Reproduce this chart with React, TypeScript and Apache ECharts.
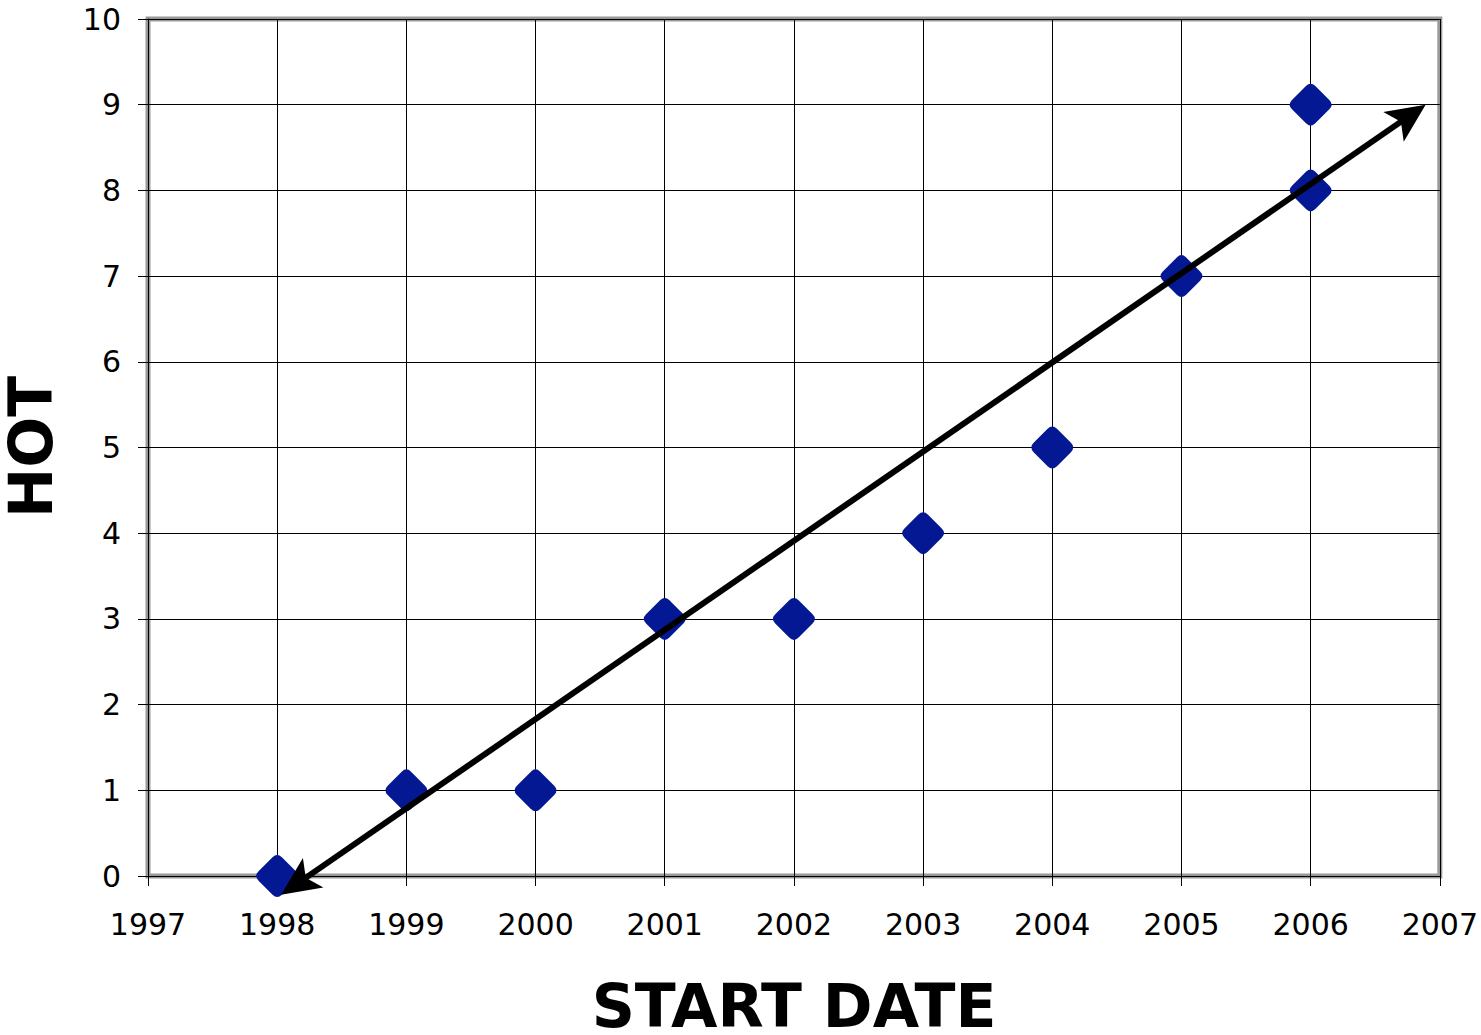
import React, { useEffect, useRef } from "react";
import * as echarts from "echarts";

const years = [1998, 1999, 2000, 2001, 2002, 2003, 2004, 2005, 2006, 2006];
const hotValues = [0, 1, 1, 3, 3, 4, 5, 7, 8, 9];
// trend arrow endpoints [x1, y1, x2, y2] in data units
const trendLine = [1998.03, -0.22, 2006.89, 9.0];
const xTitle = "START DATE";
const yTitle = "HOT";

const roundedDiamond =
  "path://M-0.8,-0.2 L-0.2,-0.8 Q0,-1 0.2,-0.8 L0.8,-0.2 Q1,0 0.8,0.2 L0.2,0.8 Q0,1 -0.2,0.8 L-0.8,0.2 Q-1,0 -0.8,-0.2 Z";

export default function App() {
  const ref = useRef<HTMLDivElement>(null);
  useEffect(() => {
    if (!ref.current) return;
    const chart = echarts.init(ref.current, undefined, { renderer: "svg", width: 1481, height: 1035 });
    const font = "'DejaVu Sans', Verdana, sans-serif";

    const arrowHead = (tip: number[], from: number[], len: number, half: number, notch: number) => {
      const dx = tip[0] - from[0];
      const dy = tip[1] - from[1];
      const d = Math.sqrt(dx * dx + dy * dy);
      const ux = dx / d;
      const uy = dy / d;
      const px = -uy;
      const py = ux;
      const bx = tip[0] - ux * len;
      const by = tip[1] - uy * len;
      const nx = tip[0] - ux * (len - notch);
      const ny = tip[1] - uy * (len - notch);
      return [
        [tip[0], tip[1]],
        [bx + px * half, by + py * half],
        [nx, ny],
        [bx - px * half, by - py * half],
      ];
    };

    chart.setOption({
      animation: false,
      backgroundColor: "#ffffff",
      grid: {
        left: 148,
        right: 40,
        top: 19,
        bottom: 159,
        show: true,
        borderColor: "#999999",
        borderWidth: 5,
        backgroundColor: "transparent",
      },
      xAxis: {
        type: "value",
        min: 1997,
        max: 2007,
        interval: 1,
        axisLine: { show: true, onZero: false, lineStyle: { color: "#000", width: 1 } },
        axisTick: { show: true, length: 10, lineStyle: { color: "#000" } },
        axisLabel: { color: "#000", fontSize: 30, fontFamily: font, margin: 33, formatter: (v: number) => String(v) },
        splitLine: { show: true, lineStyle: { color: "#000", width: 1 } },
      },
      yAxis: {
        type: "value",
        min: 0,
        max: 10,
        interval: 1,
        axisLine: { show: true, onZero: false, lineStyle: { color: "#000", width: 1 } },
        axisTick: { show: true, length: 10, lineStyle: { color: "#000" } },
        axisLabel: { color: "#000", fontSize: 30, fontFamily: font, margin: 27, formatter: (v: number) => String(v) },
        splitLine: { show: true, lineStyle: { color: "#000", width: 1 } },
      },
      graphic: [
        {
          type: "text",
          x: 794,
          y: 1006,
          style: {
            text: xTitle,
            fill: "#000",
            font: `bold 60px ${font}`,
            textAlign: "center",
            textVerticalAlign: "middle",
          },
        },
        {
          type: "text",
          x: 31,
          y: 447,
          rotation: Math.PI / 2,
          style: {
            text: yTitle,
            fill: "#000",
            font: `bold 60px ${font}`,
            textAlign: "center",
            textVerticalAlign: "middle",
          },
        },
      ],
      series: [
        {
          type: "scatter",
          data: years.map((y, i) => [y, hotValues[i]]),
          symbol: roundedDiamond,
          symbolSize: [42, 42],
          itemStyle: { color: "#031892", opacity: 1 },
          clip: false,
          z: 2,
        },
        {
          type: "custom",
          clip: false,
          z: 3,
          data: [trendLine],
          encode: { x: [0, 2], y: [1, 3] },
          renderItem: (params: any, api: any) => {
            const p1 = api.coord([api.value(0), api.value(1)]);
            const p2 = api.coord([api.value(2), api.value(3)]);
            const dx = p2[0] - p1[0];
            const dy = p2[1] - p1[1];
            const d = Math.sqrt(dx * dx + dy * dy);
            const ux = dx / d;
            const uy = dy / d;
            const inset = 25;
            return {
              type: "group",
              children: [
                {
                  type: "line",
                  shape: {
                    x1: p1[0] + ux * inset,
                    y1: p1[1] + uy * inset,
                    x2: p2[0] - ux * inset,
                    y2: p2[1] - uy * inset,
                  },
                  style: { stroke: "#000", lineWidth: 6 },
                },
                {
                  type: "polygon",
                  shape: { points: arrowHead(p2, p1, 39, 18, 9) },
                  style: { fill: "#000" },
                },
                {
                  type: "polygon",
                  shape: { points: arrowHead(p1, p2, 39, 18, 9) },
                  style: { fill: "#000" },
                },
              ],
            };
          },
        },
      ],
    });
    return () => chart.dispose();
  }, []);
  return <div ref={ref} style={{ width: 1481, height: 1035, position: "absolute", left: 0, top: 0 }} />;
}
